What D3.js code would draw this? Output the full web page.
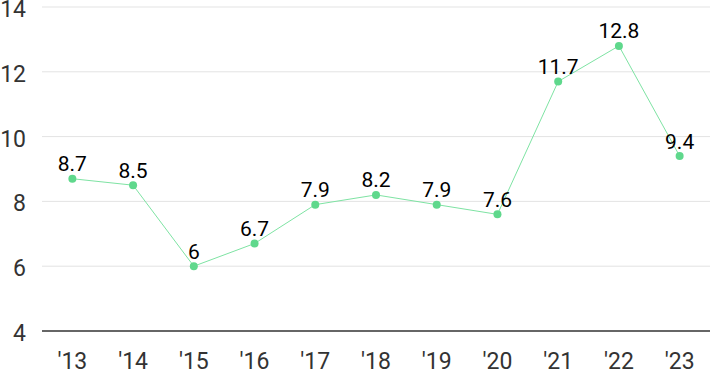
<!DOCTYPE html>
<html>
<head>
<meta charset="utf-8">
<script src="https://cdn.jsdelivr.net/npm/d3@7"></script>
<style>
  body { margin: 0; background: #fff; }
  svg { display: block; font-family: Roboto, 'Noto Sans', sans-serif; }
</style>
</head>
<body>
<svg id="chart" width="710" height="371"></svg>
<script>
const years = ["'13", "'14", "'15", "'16", "'17", "'18", "'19", "'20", "'21", "'22", "'23"]
const values = [8.7, 8.5, 6, 6.7, 7.9, 8.2, 7.9, 7.6, 11.7, 12.8, 9.4]
const yTicks = [4, 6, 8, 10, 12, 14]

const svg = d3.select('#chart')
const mLeft = 42, mRight = 710, mTop = 7, mBottom = 331

const x = d3.scalePoint().domain(years).range([mLeft, mRight]).padding(0.5)
const y = d3.scaleLinear().domain([4, 14]).range([mBottom, mTop])

// grid
svg.append('g').selectAll('line').data(yTicks.slice(1)).enter()
  .append('line')
  .attr('x1', mLeft).attr('x2', mRight)
  .attr('y1', d => y(d)).attr('y2', d => y(d))
  .attr('stroke', '#e3e3e3').attr('stroke-width', 1)

// baseline
svg.append('line')
  .attr('x1', mLeft).attr('x2', mRight)
  .attr('y1', mBottom).attr('y2', mBottom)
  .attr('stroke', '#333').attr('stroke-width', 1.5)

// y labels
svg.append('g').selectAll('text').data(yTicks).enter()
  .append('text')
  .attr('x', 26)
  .attr('y', d => y(d) + 4)
  .attr('text-anchor', 'end')
  .attr('dominant-baseline', 'middle')
  .attr('font-size', 23)
  .attr('fill', '#333')
  .text(d => d)

// x labels
svg.append('g').selectAll('text').data(years).enter()
  .append('text')
  .attr('x', d => x(d))
  .attr('y', 369)
  .attr('text-anchor', 'middle')
  .attr('font-size', 23)
  .attr('fill', '#333')
  .text(d => d)

const pts = years.map((yr, i) => ({ yr, v: values[i] }))

svg.append('path')
  .datum(pts)
  .attr('fill', 'none')
  .attr('stroke', '#7ee3a3')
  .attr('stroke-width', 1)
  .attr('d', d3.line().x(d => x(d.yr)).y(d => y(d.v)))

svg.append('g').selectAll('circle').data(pts).enter()
  .append('circle')
  .attr('cx', d => x(d.yr))
  .attr('cy', d => y(d.v))
  .attr('r', 4)
  .attr('fill', '#5fd88c')

svg.append('g').selectAll('text').data(pts).enter()
  .append('text')
  .attr('x', d => x(d.yr))
  .attr('y', d => y(d.v) - 7.5)
  .attr('text-anchor', 'middle')
  .attr('font-size', 21)
  .attr('fill', '#000')
  .text(d => d.v)
</script>
</body>
</html>
